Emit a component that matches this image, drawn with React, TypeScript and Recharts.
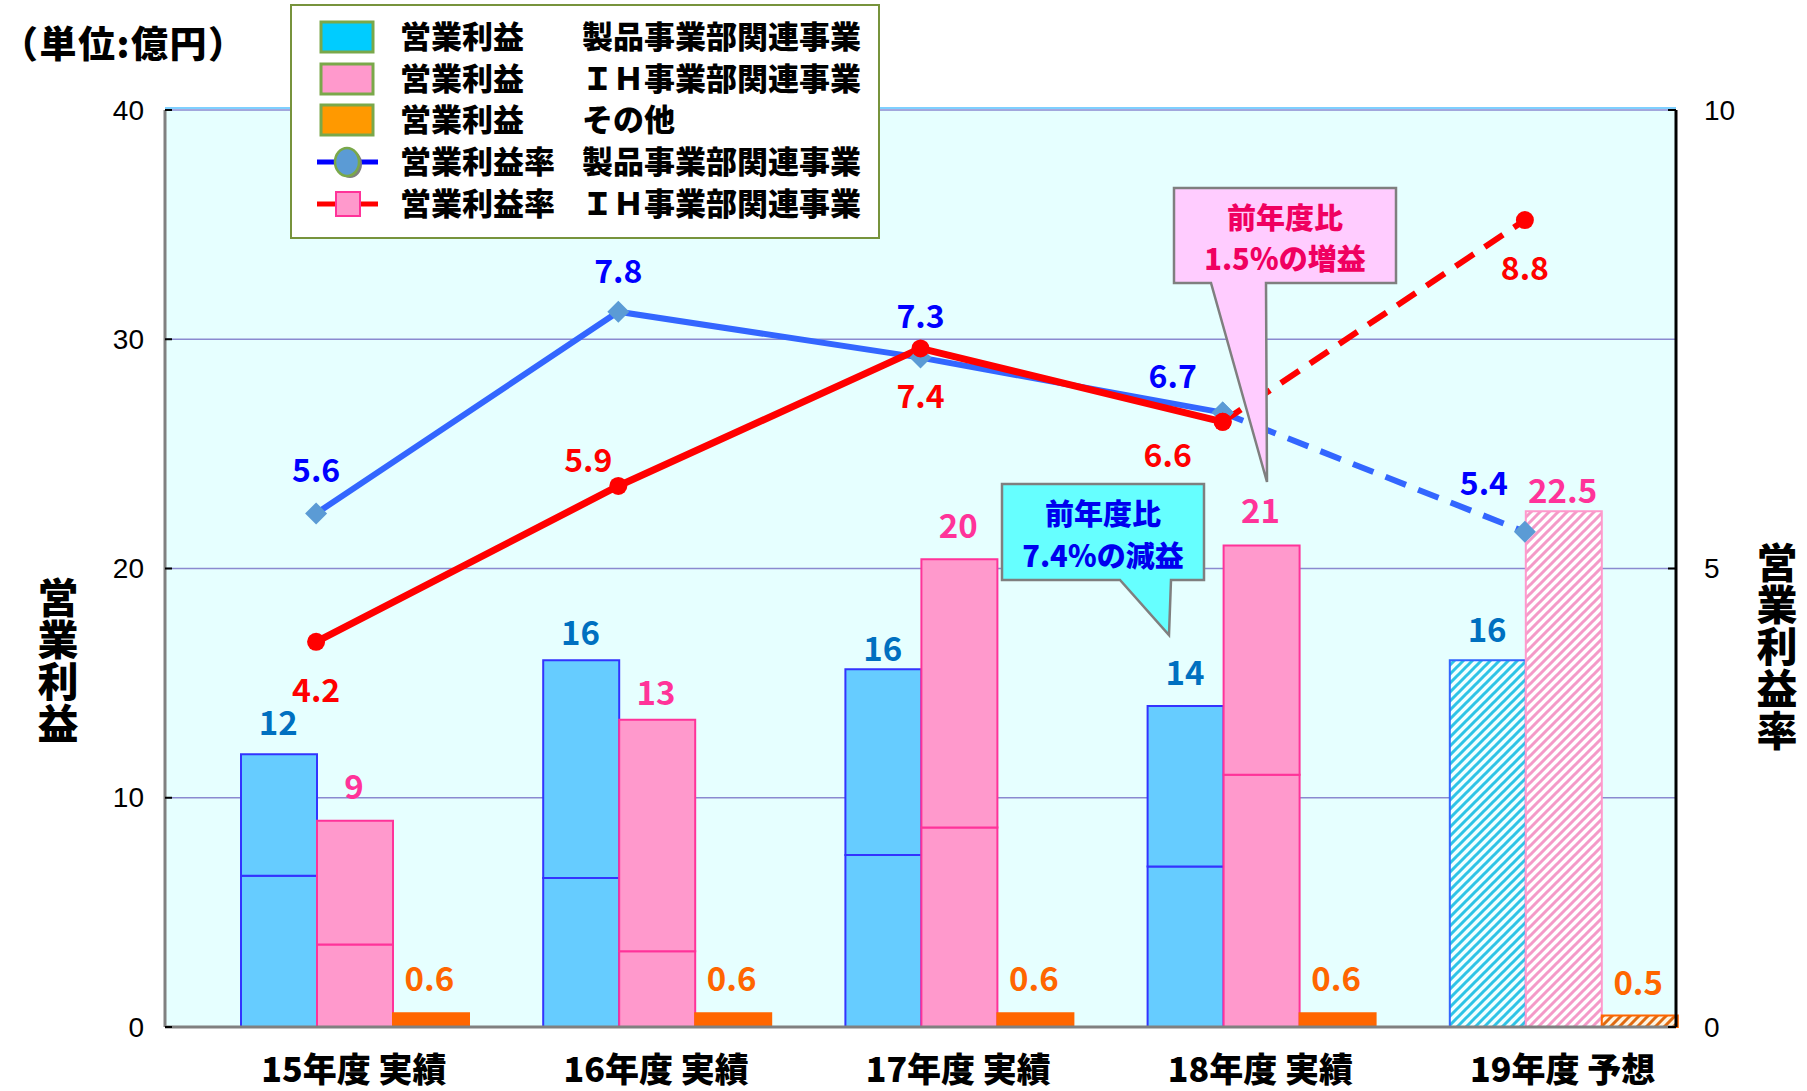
import React from 'react';
import { ComposedChart, Bar, Line, XAxis, YAxis, CartesianGrid, Cell, LabelList } from 'recharts';

const categories = ['15年度 実績', '16年度 実績', '17年度 実績', '18年度 実績', '19年度 予想'];

// 営業利益（億円）: bars of the actual years are split in two stacked parts
const seihinLower = [6.6, 6.5, 7.5, 7.0, 16.0];
const seihinUpper = [5.3, 9.5, 8.1, 7.0, 0];
const ihLower = [3.6, 3.3, 8.7, 11.0, 22.5];
const ihUpper = [5.4, 10.1, 11.7, 10.0, 0];
const otherProfit = [0.6, 0.6, 0.6, 0.6, 0.5];

const seihinLabels = ['12', '16', '16', '14', '16'];
const ihLabels = ['9', '13', '20', '21', '22.5'];
const otherLabels = ['0.6', '0.6', '0.6', '0.6', '0.5'];

// 営業利益率（%）
const seihinRate = [5.6, 7.8, 7.3, 6.7, 5.4];
const ihRate = [4.2, 5.9, 7.4, 6.6, 8.8];

const leftTicks = [0, 10, 20, 30, 40];
const rightTicks = [0, 5, 10];

const FORECAST = 4; // 19年度 is a forecast: hatched bars, dashed lines

const W = 1807;
const H = 1091;
const PLOT_LEFT = 165;
const PLOT_RIGHT = 1676;
const SLOT = (PLOT_RIGHT - PLOT_LEFT) / categories.length / 4;
const FONT = "'Noto Sans CJK JP', 'Noto Sans', sans-serif";

// label offsets (layout only)
const seihinLabelUp = [33, 29, 22, 35, 32];
const ihLabelUp = [36, 29, 35, 37, 22];
const otherLabelUp = [36, 36, 36, 36, 35];
const seihinRateOff = [[0, -45], [0, -43], [0, -44], [-50, -39], [-41, -51]];
const ihRateOff = [[0, 46], [-30, -28], [0, 46], [-55, 31], [0, 46]];

const data = categories.map((name, i) => ({
  name,
  dummy: 0,
  sL: seihinLower[i],
  sU: seihinUpper[i],
  iL: ihLower[i],
  iU: ihUpper[i],
  other: otherProfit[i],
  sTotal: seihinLower[i] + seihinUpper[i],
  iTotal: ihLower[i] + ihUpper[i],
  sRate: seihinRate[i],
  iRate: ihRate[i],
  sRateSolid: i < FORECAST ? seihinRate[i] : null,
  sRateDash: i >= FORECAST - 1 ? seihinRate[i] : null,
  iRateSolid: i < FORECAST ? ihRate[i] : null,
  iRateDash: i >= FORECAST - 1 ? ihRate[i] : null,
}));

function LeftTick(props: any) {
  const { x, y, payload } = props;
  return (
    <g>
      <line x1={x} x2={x + 7} y1={y} y2={y} stroke="#000" strokeWidth={2} />
      <text x={x - 21} y={y} textAnchor="end" dominantBaseline="central" fontSize={28}
        fontFamily="'Liberation Sans', Arial, sans-serif" fill="#000">{payload.value}</text>
    </g>
  );
}

function RightTick(props: any) {
  const { x, y, payload } = props;
  return (
    <g>
      <line x1={x - 8} x2={x} y1={y} y2={y} stroke="#000" strokeWidth={2} />
      <text x={x + 28} y={y} textAnchor="start" dominantBaseline="central" fontSize={28}
        fontFamily="'Liberation Sans', Arial, sans-serif" fill="#000">{payload.value}</text>
    </g>
  );
}

function XTick(props: any) {
  const { x, y, payload } = props;
  return (
    <text x={x + SLOT / 2} y={y + 55} textAnchor="middle" fontSize={34} fontWeight={900}
      fontFamily={FONT} fill="#000">{payload.value}</text>
  );
}

function barLabel(texts: string[], ups: number[], dx: number, color: string) {
  return (props: any) => {
    const { x, y, index } = props;
    if (x == null || y == null) return null;
    return (
      <text key={index} x={x + dx} y={y - ups[index]} textAnchor="middle" dominantBaseline="central"
        fontSize={33} fontWeight={700} fontFamily={FONT} fill={color}>{texts[index]}</text>
    );
  };
}

function rateLabel(values: number[], offs: number[][], color: string) {
  return (props: any) => {
    const { x, y, index } = props;
    if (x == null || y == null) return null;
    return (
      <text key={index} x={x + offs[index][0]} y={y + offs[index][1]} textAnchor="middle"
        dominantBaseline="central" fontSize={32} fontWeight={700} fontFamily={FONT}
        fill={color}>{values[index].toFixed(1)}</text>
    );
  };
}

function diamondDot(props: any) {
  const { cx, cy, index } = props;
  if (cx == null || cy == null || props.value == null) return <g key={`d${index}`} />;
  const r = 11;
  return (
    <path key={`d${index}`} d={`M${cx},${cy - r}L${cx + r},${cy}L${cx},${cy + r}L${cx - r},${cy}Z`}
      fill="#5B9BD5" />
  );
}

function circleDot(props: any) {
  const { cx, cy, index } = props;
  if (cx == null || cy == null || props.value == null) return <g key={`c${index}`} />;
  return <circle key={`c${index}`} cx={cx} cy={cy} r={9} fill="#FF0000" />;
}

function Callout(props: { pts: string; fill: string; color: string; cx: number; y1: number; y2: number; l1: string; l2: string }) {
  return (
    <g>
      <polygon points={props.pts} fill={props.fill} stroke="#7F7F7F" strokeWidth={2.5} />
      <text textAnchor="middle" fontSize={29} fontWeight={900} fontFamily={FONT} fill={props.color}>
        <tspan x={props.cx} y={props.y1}>{props.l1}</tspan>
        <tspan x={props.cx} y={props.y2}>{props.l2}</tspan>
      </text>
    </g>
  );
}

function VerticalTitle(props: { x: number; y: number; text: string }) {
  return (
    <text x={props.x} y={props.y} fontSize={41} fontWeight={900} fontFamily={FONT} fill="#000"
      style={{ writingMode: 'vertical-rl', letterSpacing: 1 }}>{props.text}</text>
  );
}

function Overlay() {
  const rowY = [37, 79, 120, 162, 204];
  const txt = { fontSize: 31, fontWeight: 900, fontFamily: FONT, fill: '#000' } as const;
  const swatches = ['#00CCFF', '#FF99CC', '#FF9900'];
  const col2 = ['製品事業部関連事業', 'ＩＨ事業部関連事業', 'その他', '製品事業部関連事業', 'ＩＨ事業部関連事業'];
  const col1 = ['営業利益', '営業利益', '営業利益', '営業利益率', '営業利益率'];
  return (
    <svg width={W} height={H} style={{ position: 'absolute', left: 0, top: 0, pointerEvents: 'none' }}>
      <line x1={PLOT_LEFT} x2={PLOT_RIGHT} y1={108} y2={108} stroke="#7FD0FF" strokeWidth={2} />
      <text x={1} y={58} fontSize={37} fontWeight={900} fontFamily={FONT} fill="#000"
        style={{ letterSpacing: 1.5 }}>（単位:億円）</text>
      <VerticalTitle x={58} y={577} text="営業利益" />
      <VerticalTitle x={1777} y={542} text="営業利益率" />

      <rect x={291} y={5} width={588} height={233} fill="#FFFFFF" stroke="#77933C" strokeWidth={2} />
      {swatches.map((c, i) => (
        <rect key={c} x={321} y={rowY[i] - 15} width={52} height={30} fill={c} stroke="#7AA84A" strokeWidth={3} />
      ))}
      <line x1={317} x2={378} y1={rowY[3]} y2={rowY[3]} stroke="#0000FF" strokeWidth={5} />
      <ellipse cx={350} cy={rowY[3] + 2} rx={12} ry={14} fill="#7F7F7F" />
      <ellipse cx={347} cy={rowY[3]} rx={12} ry={14} fill="#5B9BD5" stroke="#7AA84A" strokeWidth={2.5} />
      <line x1={317} x2={378} y1={rowY[4]} y2={rowY[4]} stroke="#FF0000" strokeWidth={5} />
      <rect x={336} y={rowY[4] - 12} width={24} height={24} fill="#FF99CC" stroke="#FF3399" strokeWidth={2} />
      {rowY.map((y, i) => (
        <g key={i}>
          <text x={400} y={y + 11} {...txt}>{col1[i]}</text>
          <text x={582} y={y + 11} {...txt}>{col2[i]}</text>
        </g>
      ))}

      <Callout
        pts="1002,484 1204,484 1204,580 1171,580 1169,635 1120,580 1002,580"
        fill="#66FFFF" color="#0000EE" cx={1103} y1={525} y2={567} l1="前年度比" l2="7.4％の減益" />
      <Callout
        pts="1174,188 1396,188 1396,283 1266,283 1267,482 1211,283 1174,283"
        fill="#FFCCFF" color="#F00060" cx={1285} y1={229} y2={270} l1="前年度比" l2="1.5％の増益" />
    </svg>
  );
}

export default function App() {
  return (
    <div style={{ position: 'absolute', left: 0, top: 0, width: W, height: H, background: '#fff' }}>
      <svg width={0} height={0} style={{ position: 'absolute' }}>
        <defs>
          <pattern id="hatchBlue" patternUnits="userSpaceOnUse" width={9} height={9}>
            <rect width={9} height={9} fill="#F2FFFF" />
            <path d="M-2,2L2,-2M0,9L9,0M7,11L11,7" stroke="#2EC4E6" strokeWidth={3} />
          </pattern>
          <pattern id="hatchPink" patternUnits="userSpaceOnUse" width={9} height={9}>
            <rect width={9} height={9} fill="#FFFFFF" />
            <path d="M-2,2L2,-2M0,9L9,0M7,11L11,7" stroke="#F49AC8" strokeWidth={3} />
          </pattern>
          <pattern id="hatchOrange" patternUnits="userSpaceOnUse" width={9} height={9}>
            <rect width={9} height={9} fill="#FFF4E0" />
            <path d="M-2,2L2,-2M0,9L9,0M7,11L11,7" stroke="#E06A10" strokeWidth={3} />
          </pattern>
        </defs>
      </svg>
      <ComposedChart width={W} height={H} data={data} barGap={0} barCategoryGap={0}
        margin={{ top: 110, right: 71, bottom: 14, left: 105 }}>
        <CartesianGrid yAxisId="left" vertical={false} stroke="#8A8AD0" strokeWidth={1.5} fill="#E6FFFF" />
        <XAxis dataKey="name" height={50} interval={0} tickSize={0} tickMargin={0} tickLine={false}
          axisLine={{ stroke: '#808080', strokeWidth: 3 }} tick={<XTick />} />
        <YAxis yAxisId="left" domain={[0, 40]} ticks={leftTicks} interval={0} width={60} tickSize={0}
          tickMargin={0} tickLine={false} axisLine={{ stroke: '#808080', strokeWidth: 3 }} tick={<LeftTick />} />
        <YAxis yAxisId="right" orientation="right" domain={[0, 10]} ticks={rightTicks} interval={0} width={60}
          tickSize={0} tickMargin={0} tickLine={false} axisLine={{ stroke: '#000', strokeWidth: 3 }}
          tick={<RightTick />} />

        <Bar yAxisId="left" dataKey="dummy" stackId="a" fill="none" isAnimationActive={false} />
        <Bar yAxisId="left" dataKey="sL" stackId="s" strokeWidth={2} isAnimationActive={false}>
          {data.map((_, i) => (
            <Cell key={i} fill={i === FORECAST ? 'url(#hatchBlue)' : '#66CCFF'}
              stroke={i === FORECAST ? '#3366FF' : '#3333FF'} />
          ))}
        </Bar>
        <Bar yAxisId="left" dataKey="sU" stackId="s" fill="#66CCFF" stroke="#3333FF" strokeWidth={2}
          isAnimationActive={false} />
        <Bar yAxisId="left" dataKey="iL" stackId="i" strokeWidth={2} isAnimationActive={false}>
          {data.map((_, i) => (
            <Cell key={i} fill={i === FORECAST ? 'url(#hatchPink)' : '#FF99CC'}
              stroke={i === FORECAST ? '#FF99CC' : '#FF3399'} />
          ))}
        </Bar>
        <Bar yAxisId="left" dataKey="iU" stackId="i" fill="#FF99CC" stroke="#FF3399" strokeWidth={2}
          isAnimationActive={false} />
        <Bar yAxisId="left" dataKey="other" stackId="o" strokeWidth={2} isAnimationActive={false}>
          {data.map((_, i) => (
            <Cell key={i} fill={i === FORECAST ? 'url(#hatchOrange)' : '#FF6600'} stroke="#FF6600" />
          ))}
        </Bar>

        <Line yAxisId="right" dataKey="sRateSolid" stroke="#3366FF" strokeWidth={6} dot={diamondDot}
          activeDot={false} isAnimationActive={false} />
        <Line yAxisId="right" dataKey="sRateDash" stroke="#3366FF" strokeWidth={6} strokeDasharray="22 13"
          dot={diamondDot} activeDot={false} isAnimationActive={false} />
        <Line yAxisId="right" dataKey="iRateSolid" stroke="#FF0000" strokeWidth={7} dot={circleDot}
          activeDot={false} isAnimationActive={false} />
        <Line yAxisId="right" dataKey="iRateDash" stroke="#FF0000" strokeWidth={6} strokeDasharray="22 13"
          dot={circleDot} activeDot={false} isAnimationActive={false} />

        <Line yAxisId="left" dataKey="sTotal" stroke="none" dot={false} activeDot={false} isAnimationActive={false}>
          <LabelList dataKey="sTotal" content={barLabel(seihinLabels, seihinLabelUp, -SLOT / 2, '#0070C0')} />
        </Line>
        <Line yAxisId="left" dataKey="iTotal" stroke="none" dot={false} activeDot={false} isAnimationActive={false}>
          <LabelList dataKey="iTotal" content={barLabel(ihLabels, ihLabelUp, SLOT / 2, '#FF3399')} />
        </Line>
        <Line yAxisId="left" dataKey="other" stroke="none" dot={false} activeDot={false} isAnimationActive={false}>
          <LabelList dataKey="other" content={barLabel(otherLabels, otherLabelUp, SLOT * 1.5, '#FF6600')} />
        </Line>
        <Line yAxisId="right" dataKey="sRate" stroke="none" dot={false} activeDot={false} isAnimationActive={false}>
          <LabelList dataKey="sRate" content={rateLabel(seihinRate, seihinRateOff, '#0000FF')} />
        </Line>
        <Line yAxisId="right" dataKey="iRate" stroke="none" dot={false} activeDot={false} isAnimationActive={false}>
          <LabelList dataKey="iRate" content={rateLabel(ihRate, ihRateOff, '#FF0000')} />
        </Line>
      </ComposedChart>
      <Overlay />
    </div>
  );
}
